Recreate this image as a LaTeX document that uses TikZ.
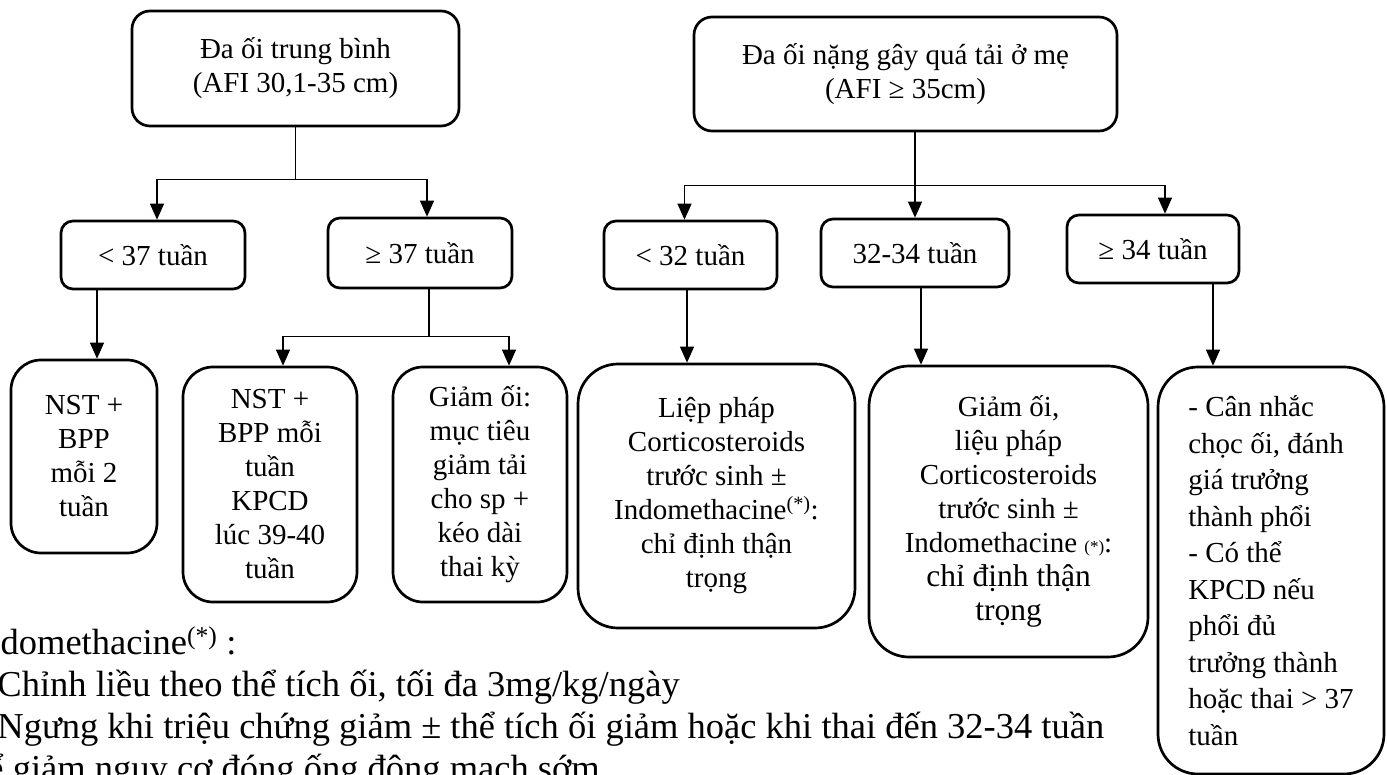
\documentclass[tikz,border=0pt]{standalone}
\usepackage{fontspec}
\setmainfont{Liberation Serif}
\usetikzlibrary{arrows.meta}

\tikzset{
  roundbox/.style={draw, line width=2.7pt, inner sep=0pt, align=center,
    font=\fontsize{29}{34}\selectfont},
  topbox/.style={roundbox, rounded corners=18pt},
  weekbox/.style={roundbox, rounded corners=12pt},
  planbox/.style={roundbox, rounded corners=30pt},
  bigbox/.style={roundbox, rounded corners=40pt},
  link/.style={line width=1.3pt},
  arr/.style={link, -{Triangle[width=14pt,length=16pt]}},
  note/.style={anchor=base west, inner sep=0pt, font=\fontsize{36.5}{42}\selectfont}
}

\begin{document}
\begin{tikzpicture}[x=1pt, y=-1pt]
\useasboundingbox (0,0) rectangle (1387,774);
\clip (0,0) rectangle (1387,774);
% muc do da oi
\node (a) [topbox, minimum width=327pt, minimum height=115pt] at (295.5,68.5) {Đa ối trung bình\\(AFI 30,1-35 cm)};
\node (b) [topbox, minimum width=423pt, minimum height=114pt] at (905.5,74) {Đa ối nặng gây quá tải ở mẹ\\(AFI ≥ 35cm)};
% tuoi thai
\node (c1) [weekbox, minimum width=184pt, minimum height=68pt] at (153,255) {< 37 tuần};
\node (c2) [weekbox, minimum width=184pt, minimum height=70pt] at (420,253) {≥ 37 tuần};
\node (d1) [weekbox, minimum width=173pt, minimum height=68pt] at (690.5,255) {< 32 tuần};
\node (d2) [weekbox, minimum width=188pt, minimum height=68pt] at (915,253) {32-34 tuần};
\node (d3) [weekbox, minimum width=172pt, minimum height=68pt] at (1153,249) {≥ 34 tuần};
% xu tri
\node (e1) [planbox, minimum width=146pt, minimum height=193pt] at (84,456.5) {NST +\\BPP\\mỗi 2\\tuần};
\node (e2) [planbox, minimum width=174pt, minimum height=235pt] at (270,484.5) {NST +\\BPP mỗi\\tuần\\KPCD\\lúc 39-40\\tuần};
\node (e3) [planbox, minimum width=174pt, minimum height=235pt] at (480,484.5) {Giảm ối:\\mục tiêu\\giảm tải\\cho sp +\\kéo dài\\thai kỳ};
\node (e4) [bigbox, minimum width=277pt, minimum height=264pt] at (716.5,496) {Liệp pháp\\Corticosteroids\\trước sinh ±\\Indomethacine\textsuperscript{(*)}:\\chỉ định thận\\trọng};
\node (e5) [bigbox, minimum width=279pt, minimum height=291pt] at (1008.5,511.5) {Giảm ối,\\liệu pháp\\Corticosteroids\\trước sinh ±\\Indomethacine {\fontsize{17}{17}\selectfont(*)}:\\{\fontsize{31.5}{36}\selectfont chỉ định thận}\\{\fontsize{31.5}{36}\selectfont trọng}};
\node (e6) [bigbox, align=left, font=\fontsize{29}{36.5}\selectfont, minimum width=226pt, minimum height=407pt] at (1271,570.5) {- Cân nhắc\\chọc ối, đánh\\giá trưởng\\thành phổi\\- Có thể\\KPCD nếu\\phổi đủ\\trưởng thành\\hoặc thai > 37\\tuần};
% nhanh trung binh
\draw [link] (a.south) -- ++(0,52) coordinate (ja);
\draw [arr] (ja) -| ([xshift=4pt]c1.north);
\draw [arr] (ja) -| ([xshift=7pt]c2.north);
\draw [arr] ([xshift=-56pt]c1.south) -- ([xshift=13pt]e1.north);
\draw [link] ([xshift=9pt]c2.south) -- ++(0,47) coordinate (jc);
\draw [arr] (jc) -| ([xshift=13pt]e2.north);
\draw [arr] (jc) -| ([xshift=29pt]e3.north);
% nhanh nang
\draw [arr] (b.south -| d2.north) -- (d2.north);
\path (b.south -| d2.north) ++(0,53) coordinate (jb);
\draw [arr] (jb) -| ([xshift=-6pt]d1.north);
\draw [arr] (jb) -| ([xshift=12pt]d3.north);
\draw [arr] ([xshift=-3.5pt]d1.south) -- ([xshift=-29.5pt]e4.north);
\draw [arr] ([xshift=6pt]d2.south) -- ([xshift=-87.5pt]e5.north);
\draw [arr] ([xshift=60pt]d3.south) -- ([xshift=-58pt]e6.north);
% ghi chu
\node (note1) [note] at (-30,654) {Indomethacine\textsuperscript{(*)} :};
\node (note2) [note] at (-24,696) {- Chỉnh liều theo thể tích ối, tối đa 3mg/kg/ngày};
\node (note3) [note] at (-24,738) {- Ngưng khi triệu chứng giảm ± thể tích ối giảm hoặc khi thai đến 32-34 tuần};
\node (note4) [note] at (-31,780) {để giảm nguy cơ đóng ống động mạch sớm};
\end{tikzpicture}
\end{document}
